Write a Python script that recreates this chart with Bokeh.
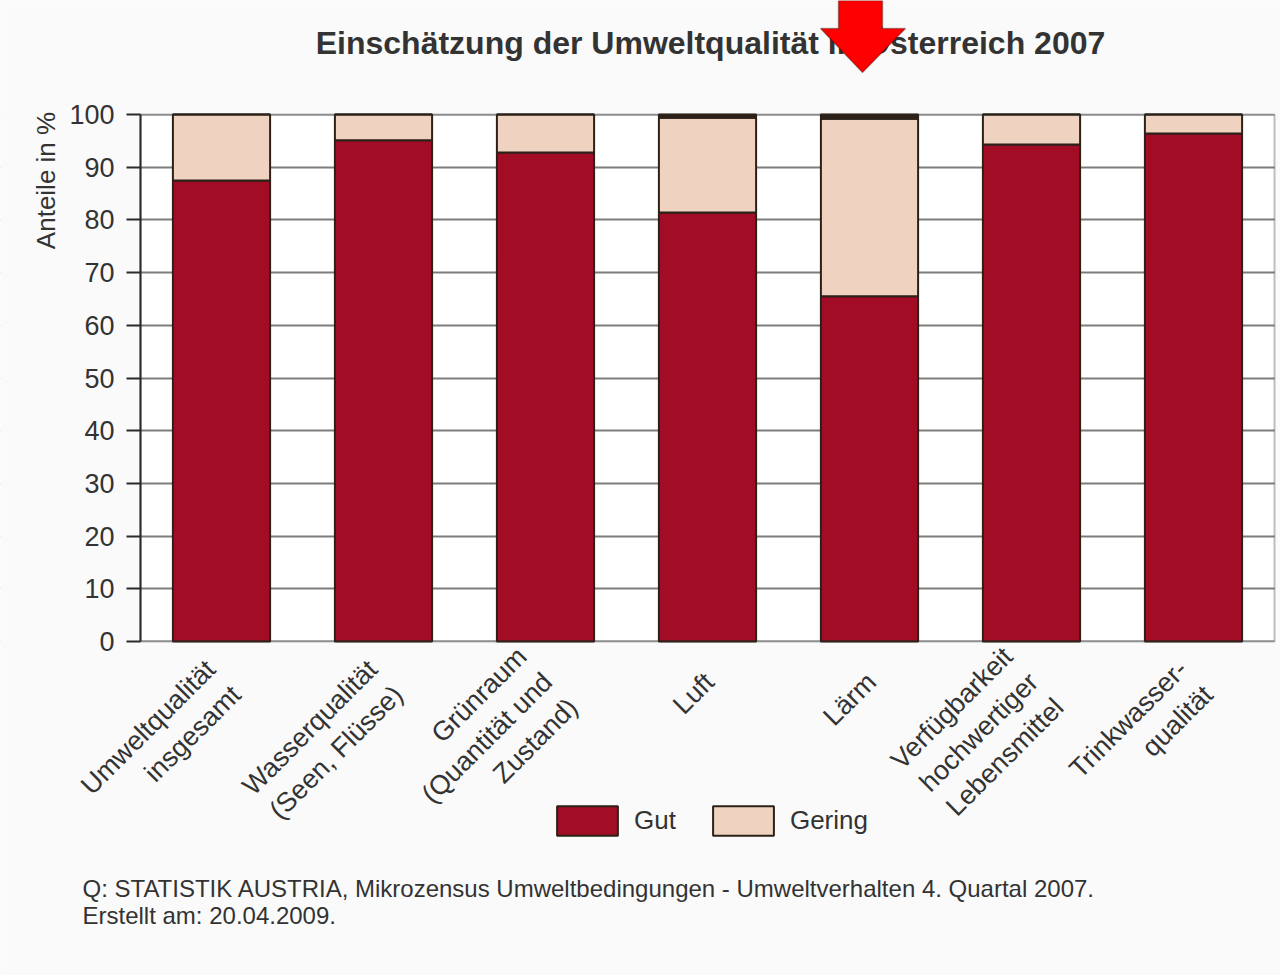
import math
from bokeh.plotting import figure
from bokeh.models import (ColumnDataSource, Range1d, Legend, Label,
                          FixedTicker, PolyAnnotation, BoxAnnotation)
from bokeh.core.properties import value
from bokeh.embed import file_html
from bokeh.resources import INLINE

categories = ["Umweltqualität\ninsgesamt", "Wasserqualität\n(Seen, Flüsse)",
              "Grünraum\n(Quantität und\nZustand)", "Luft", "Lärm",
              "Verfügbarkeit\nhochwertiger\nLebensmittel", "Trinkwasser-\nqualität"]
gut = [87.5, 95.1, 92.8, 81.4, 65.5, 94.3, 96.4]
gering = [12.5, 4.9, 7.2, 18.0, 33.7, 5.7, 3.6]
keine_angabe = [0.0, 0.0, 0.0, 0.6, 0.8, 0.0, 0.0]
y_ticks = [0, 10, 20, 30, 40, 50, 60, 70, 80, 90, 100]

FONT = "Liberation Sans"
TXT = "#333333"
PAGE = "#fafafa"
DARK = "#2a2a2a"

# geometry of the page (one frame covers the whole canvas)
W, H = 1280, 975
BOX_L, BOX_R, BOX_T, BOX_B = 140, 1274, 114, 641     # chart box on the page
N = len(categories)
PX_X = (BOX_R - BOX_L) / N
PX_Y = (BOX_B - BOX_T) / 100.0
X0, X1 = -BOX_L / PX_X, N + (W - BOX_R) / PX_X
Y0, Y1 = -(H - BOX_B) / PX_Y, 100 + BOX_T / PX_Y

x_pos = [i + 0.5 for i in range(N)]   # category slots
src = ColumnDataSource(dict(x=x_pos, cat=categories, gut=gut, gering=gering, ka=keine_angabe))

p = figure(x_range=Range1d(X0, X1), y_range=Range1d(Y0, Y1),
           frame_width=W, frame_height=H,
           min_border_left=0, min_border_right=0, min_border_top=0, min_border_bottom=0,
           output_backend="svg", toolbar_location=None)

p.border_fill_color = PAGE
p.background_fill_color = "#ffffff"
p.outline_line_color = None

# page colour outside the chart box
for kw in (dict(bottom=100, top=Y1 + 10, left=X0 - 1, right=X1 + 1),
           dict(top=0, bottom=Y0 - 10, left=X0 - 1, right=X1 + 1),
           dict(right=0, left=X0 - 1, bottom=Y0 - 10, top=Y1 + 10),
           dict(left=N, right=X1 + 1, bottom=Y0 - 10, top=Y1 + 10)):
    p.add_layout(BoxAnnotation(fill_color=PAGE, fill_alpha=1, line_color=None,
                               level="underlay", **kw))

rs = p.vbar_stack(["gut", "gering", "ka"], x="x", width=0.6, source=src,
                  fill_color=["#a20d25", "#efd3c0", "#2b2118"],
                  line_color="#2b2118", line_width=2)

p.add_layout(BoxAnnotation(left=0, right=N, bottom=0, top=100, fill_alpha=0,
                           line_color=DARK, line_width=2))

# category labels, rotated, hanging below the 0 line
p.text(x="x", y=0, text="cat", source=src, angle=math.pi / 4,
       text_align="right", text_baseline="middle", x_offset=2, y_offset=36,
       text_font=value(FONT), text_font_size="27px", text_color=TXT)

p.xaxis.visible = False
p.xgrid.grid_line_color = None
p.ygrid.grid_line_color = "#7d7d7a"
p.ygrid.grid_line_width = 2
p.ygrid.ticker = FixedTicker(ticks=y_ticks)

p.yaxis.fixed_location = 0
p.yaxis.ticker = FixedTicker(ticks=y_ticks)
p.yaxis.bounds = (0, 100)
p.yaxis.major_label_text_font = FONT
p.yaxis.major_label_text_font_size = "27px"
p.yaxis.major_label_text_color = TXT
p.yaxis.major_tick_out = 14
p.yaxis.major_tick_in = 0
p.yaxis.minor_tick_line_color = None
p.yaxis.major_tick_line_width = 2
p.yaxis.axis_line_width = 2
p.yaxis.axis_line_color = DARK
p.yaxis.major_tick_line_color = DARK
p.yaxis.major_label_standoff = 12

p.add_layout(Label(x=45, y=H - 180, x_units="screen", y_units="screen", text="Anteile in %",
                   angle=math.pi / 2, text_align="center", text_baseline="middle",
                   text_font=FONT, text_font_size="26px", text_color=TXT))

p.add_layout(Label(x=710, y=H - 42, x_units="screen", y_units="screen",
                   text="Einschätzung der Umweltqualität in Österreich 2007",
                   text_align="center", text_baseline="middle", text_font=FONT,
                   text_font_size="32px", text_font_style="bold", text_color=TXT))

arrow_x = [838, 882, 882, 905, 862, 820, 838, 838]
arrow_dy = [0, 0, 28, 28, 72, 28, 28, 0]
p.add_layout(PolyAnnotation(xs=arrow_x, ys=[H - d for d in arrow_dy],
                            xs_units="screen", ys_units="screen",
                            fill_color="#ff0000", fill_alpha=1, line_color="#000000",
                            line_width=1.5))

legend = Legend(items=[("Gut", [rs[0]]), ("Gering", [rs[1]])], orientation="horizontal",
                location=(549, H - 839), glyph_width=76, glyph_height=37,
                label_text_font=FONT, label_text_font_size="26px", label_text_color=TXT,
                border_line_color=None, background_fill_alpha=0, spacing=29, label_standoff=9,
                margin=0, padding=4)
p.add_layout(legend)

for i, line in enumerate(["Q: STATISTIK AUSTRIA, Mikrozensus Umweltbedingungen - Umweltverhalten 4. Quartal 2007.",
                          "Erstellt am: 20.04.2009."]):
    p.add_layout(Label(x=82, y=H - 888 - 27 * i, x_units="screen", y_units="screen", text=line,
                       text_baseline="middle", text_font=FONT, text_font_size="24px",
                       text_color=TXT))

open("out.html", "w").write(file_html(p, INLINE))
